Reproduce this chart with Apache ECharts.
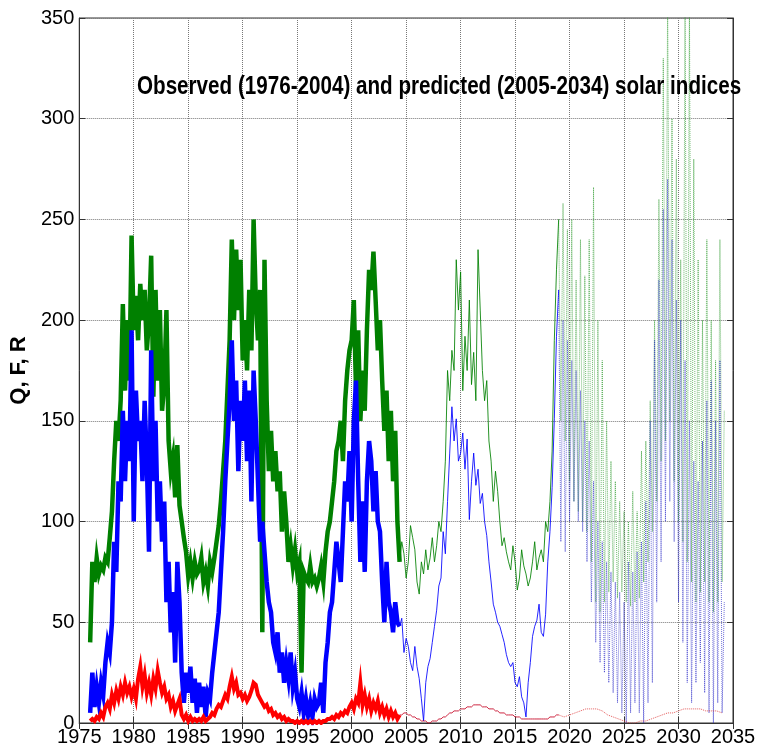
<!DOCTYPE html>
<html>
<head>
<meta charset="utf-8">
<title>Solar indices</title>
<script src="https://cdn.jsdelivr.net/npm/echarts@6/dist/echarts.min.js"></script>
<style>
  html, body { margin: 0; padding: 0; background: #fff; }
  #chart { width: 759px; height: 753px; }
</style>
</head>
<body>
<div id="chart"></div>
<script>
// observed 1976.0 - 2004.4, every 0.2 yr
const obsStart = 1976.0
const obsStep = 0.2
const fObs = [
  40, 80, 70, 82, 74, 78, 76, 82, 80, 92,
  105, 130, 150, 140, 160, 208, 165, 200, 170, 242,
  195, 212, 190, 218, 200, 215, 185, 200, 232, 162,
  215, 170, 205, 155, 168, 205, 140, 125, 132, 112,
  138, 108, 100, 92, 85, 73, 80, 72, 80, 74,
  76, 82, 70, 75, 68, 80, 75, 82, 90, 98,
  110, 125, 140, 165, 190, 240, 200, 235, 205, 230,
  180, 200, 175, 215, 185, 250, 210, 190, 215, 45,
  230, 160, 125, 145, 120, 135, 115, 125, 95, 115,
  100, 80, 88, 78, 86, 75, 80, 25, 75, 72,
  70, 78, 70, 72, 68,
  72, 78, 70, 85, 95,
  100, 110, 120, 135, 140,
  150, 130, 160, 175, 185,
  190, 210, 165, 195, 150,
  175, 155, 195, 225, 215,
  234, 210, 185, 200, 170,
  145, 165, 130, 155, 120,
  145, 100, 80
]
const rObs = [
  5, 25, 8, 18, 10, 20, 14, 30, 40, 35,
  50, 90, 75, 120, 110, 155, 120, 150, 130, 195,
  100, 165, 140, 150, 120, 160, 130, 85, 185, 120,
  150, 100, 120, 90, 110, 60, 80, 45, 65, 30,
  80, 60, 25, 10, 25, 15, 28, 10, 22, 5,
  20, 8, 18, 3, 15, 12, 25, 35, 45, 55,
  75, 95, 120, 140, 160, 190, 150, 170, 125, 160,
  140, 170, 130, 165, 110, 175, 150, 120, 90, 100,
  85, 70, 60, 55, 40, 35, 45, 25, 35, 20,
  30, 22, 35, 18, 25, 12, 8, 15, 5, 12,
  4, 10, 3, 12, 8,
  10, 20, 5, 30, 40,
  55, 60, 75, 90, 80,
  70, 95, 120, 110, 135,
  100, 150, 170, 120, 80,
  110, 75, 120, 140, 130,
  105, 125, 100, 95, 70,
  50, 80, 60, 55, 45,
  60, 50, 48
]
const qObs = [
  1, 2, 1, 3, 2, 5, 3, 8, 10, 7,
  14, 10, 16, 12, 18, 14, 20, 15, 18, 13,
  17, 12, 22, 28, 18, 24, 15, 20, 14, 22,
  17, 26, 20, 15, 18, 12, 14, 8, 11, 6,
  9, 12, 4, 2, 4, 1, 3, 1, 2, 1,
  2, 1, 3, 1, 2, 3, 5, 4, 7, 9,
  8, 11, 14, 12, 18, 23, 17, 20, 14, 15,
  12, 14, 11, 13, 16, 20, 19, 14, 12, 10,
  8, 9, 6, 7, 4, 5, 3, 4, 2, 3,
  1, 2, 1, 1, 0, 1, 0, 1, 0, 1,
  0, 1, 0, 1, 0,
  1, 0, 1, 1, 2,
  2, 3, 2, 4, 3,
  5, 4, 6, 5, 8,
  10, 7, 12, 10, 20,
  9, 14, 8, 12, 6,
  10, 7, 11, 5, 8,
  4, 7, 3, 6, 3,
  5, 2, 4
]

// predicted, first part 2004.4 - 2019.0, every 0.2 yr
const predStart = 2004.4
const predStep = 0.2
const fPred = [
  80, 90, 84, 72, 80, 98, 92, 86, 70, 64,
  80, 74, 86, 76, 82, 92, 80, 88, 100, 95,
  110, 130, 175, 160, 185, 175, 230, 205, 224, 165,
  192, 175, 210, 168, 184, 160, 235, 205, 175, 160,
  170, 140, 130, 110, 125, 115, 100, 88, 92, 85,
  80, 76, 88, 80, 66, 72, 86, 78, 74, 68,
  72, 80, 90, 76, 82, 86, 80, 100, 95, 110,
  135, 190, 225, 250
]
const rPred = [
  48, 52, 35, 42, 38, 30, 26, 38, 28, 22,
  12, 1, 20, 28, 32, 40, 48, 56, 68, 72,
  95, 84, 110, 134, 157, 140, 151, 130, 134, 144,
  126, 141, 101, 120, 134, 118, 126, 109, 114, 100,
  93, 80, 70, 59, 55, 50, 48, 44, 40, 34,
  30, 28, 30, 20, 18, 23, 13, 10, 3, 20,
  30, 43, 48, 51, 59, 45, 43, 54, 80, 95,
  117, 151, 192, 215
]
const qPred = [
  4, 4, 5, 5, 4, 4, 3, 3, 2, 2,
  1, 1, 1, 0, 0, 1, 1, 1, 2, 2,
  3, 3, 4, 5, 5, 6, 6, 6, 7, 7,
  7, 8, 8, 8, 9, 9, 9, 9, 8, 8,
  8, 7, 7, 7, 6, 6, 5, 5, 5, 4,
  4, 4, 4, 3, 3, 3, 2, 2, 2, 2,
  2, 2, 2, 2, 2, 2, 2, 2, 2, 3,
  3, 3, 4, 4
]

// predicted, second part 2019.0 - 2034.2 (dotted)
const futStart = 2019.0
const futStep = 0.2
const fFut = [
  250, 150, 258, 140, 245, 120, 250, 110, 220, 105,
  240, 100, 222, 95, 240, 80, 266, 60, 200, 55,
  180, 60, 150, 65, 130, 70, 120, 62, 110, 65,
  105, 60, 100, 58, 115, 60, 105, 62, 135, 70,
  140, 80, 160, 95, 200, 110, 260, 130, 330, 140,
  360, 150, 300, 120, 280, 100, 230, 90, 360, 80,
  360, 70, 280, 60, 230, 65, 200, 70, 240, 60,
  200, 55, 180, 60, 240, 70, 155
]
const rFut = [
  215, 90, 200, 85, 190, 100, 180, 110, 175, 100,
  165, 95, 150, 80, 140, 60, 120, 40, 100, 30,
  90, 25, 80, 20, 75, 15, 70, 10, 65, 5,
  60, 0, 80, 5, 75, 10, 85, 5, 90, 0,
  110, 10, 150, 20, 190, 60, 220, 80, 255, 100,
  270, 110, 240, 90, 210, 60, 200, 40, 180, 20,
  150, 10, 130, 20, 120, 30, 140, 15, 160, 5,
  170, 0, 150, 10, 180, 5, 60
]
const qFutStart = 2019.0
const qFutStep = 0.5
const qFut = [
  4, 3, 4, 5, 6, 7, 7, 7, 6, 4,
  3, 2, 1, 0, 0, 1, 1, 2, 3, 4,
  5, 5, 6, 7, 7, 7, 7, 6, 6, 6, 5
]

const yearTicks = [1975, 1980, 1985, 1990, 1995, 2000, 2005, 2010, 2015, 2020, 2025, 2030, 2035]
const valueTicks = [0, 50, 100, 150, 200, 250, 300, 350]

const GREEN = "#008000"
const BLUE = "#0000ff"
const RED = "#ff0000"
const FONT = "'Liberation Sans', Arial, sans-serif"

function pairs(start, step, vals) {
  return vals.map((v, i) => [+(start + i * step).toFixed(2), v])
}

function line(name, data, color, width, type, opacity) {
  return {
    name: name,
    type: "line",
    data: data,
    showSymbol: false,
    symbol: "none",
    clip: true,
    lineStyle: { color: color, width: width, type: type, opacity: opacity, cap: "butt", join: "miter" },
    z: 3
  }
}

const tickLine = { color: "#333" }
const chart = echarts.init(document.getElementById("chart"))
const option = {
  animation: false,
  backgroundColor: "#fff",
  graphic: [
    {
      type: "text",
      x: 137,
      y: 75,
      scaleX: 0.825,
      z: 10,
      style: {
        text: "Observed (1976-2004) and predicted (2005-2034) solar indices",
        font: "bold 25px " + FONT,
        fill: "#000",
        textVerticalAlign: "top"
      }
    }
  ],
  grid: {
    left: 75, right: 26, top: 18, bottom: 30,
    show: true, borderColor: "#333", borderWidth: 1, backgroundColor: "#fff"
  },
  xAxis: [
    {
      type: "value",
      min: yearTicks[0], max: yearTicks[yearTicks.length - 1], interval: 5,
      axisLine: { show: true, lineStyle: tickLine },
      axisTick: { show: true, inside: true, length: 6, lineStyle: tickLine },
      axisLabel: {
        color: "#000", fontSize: 20, fontFamily: FONT, margin: 4,
        showMinLabel: true, showMaxLabel: true, hideOverlap: false,
        formatter: v => String(v)
      },
      splitLine: { show: true, lineStyle: { color: "#777", type: "dotted", width: 1 } }
    },
    {
      type: "value", position: "top",
      min: yearTicks[0], max: yearTicks[yearTicks.length - 1], interval: 5,
      axisLine: { show: true, lineStyle: tickLine },
      axisTick: { show: true, inside: true, length: 6, lineStyle: tickLine },
      axisLabel: { show: false },
      splitLine: { show: false }
    }
  ],
  yAxis: [
    {
      type: "value",
      min: valueTicks[0], max: valueTicks[valueTicks.length - 1], interval: 50,
      name: "Q, F, R",
      nameLocation: "middle",
      nameGap: 48,
      nameRotate: 90,
      nameTextStyle: { fontFamily: FONT, fontSize: 22, fontWeight: "bold", color: "#000" },
      axisLine: { show: true, lineStyle: tickLine },
      axisTick: { show: true, inside: true, length: 6, lineStyle: tickLine },
      axisLabel: {
        color: "#000", fontSize: 20, fontFamily: FONT, margin: 5,
        showMinLabel: true, showMaxLabel: true,
        formatter: v => String(v)
      },
      splitLine: { show: true, lineStyle: { color: "#777", type: "dotted", width: 1 } }
    },
    {
      type: "value", position: "right",
      min: valueTicks[0], max: valueTicks[valueTicks.length - 1], interval: 50,
      axisLine: { show: true, lineStyle: tickLine },
      axisTick: { show: true, inside: true, length: 6, lineStyle: tickLine },
      axisLabel: { show: false },
      splitLine: { show: false }
    }
  ],
  series: [
    line("F dotted", pairs(futStart, futStep, fFut), "#2e9a2e", 1, "dotted", 0.7),
    line("R dotted", pairs(futStart, futStep, rFut), "#2b2bc8", 1, "dotted", 0.7),
    line("Q dotted", pairs(qFutStart, qFutStep, qFut), "#dd3333", 1, "dotted", 0.8),
    line("F pred", pairs(predStart, predStep, fPred), GREEN, 1, "solid", 0.85),
    line("R pred", pairs(predStart, predStep, rPred), BLUE, 1, "solid", 0.85),
    line("Q pred", pairs(predStart, predStep, qPred), "#c8102e", 1, "solid", 0.9),
    line("F", pairs(obsStart, obsStep, fObs), GREEN, 4.5, "solid", 1),
    line("R", pairs(obsStart, obsStep, rObs), BLUE, 4.5, "solid", 1),
    line("Q", pairs(obsStart, obsStep, qObs), RED, 4, "solid", 1)
  ]
}
chart.setOption(option)
window.addEventListener("resize", () => {
  chart.resize()
})
</script>
</body>
</html>
